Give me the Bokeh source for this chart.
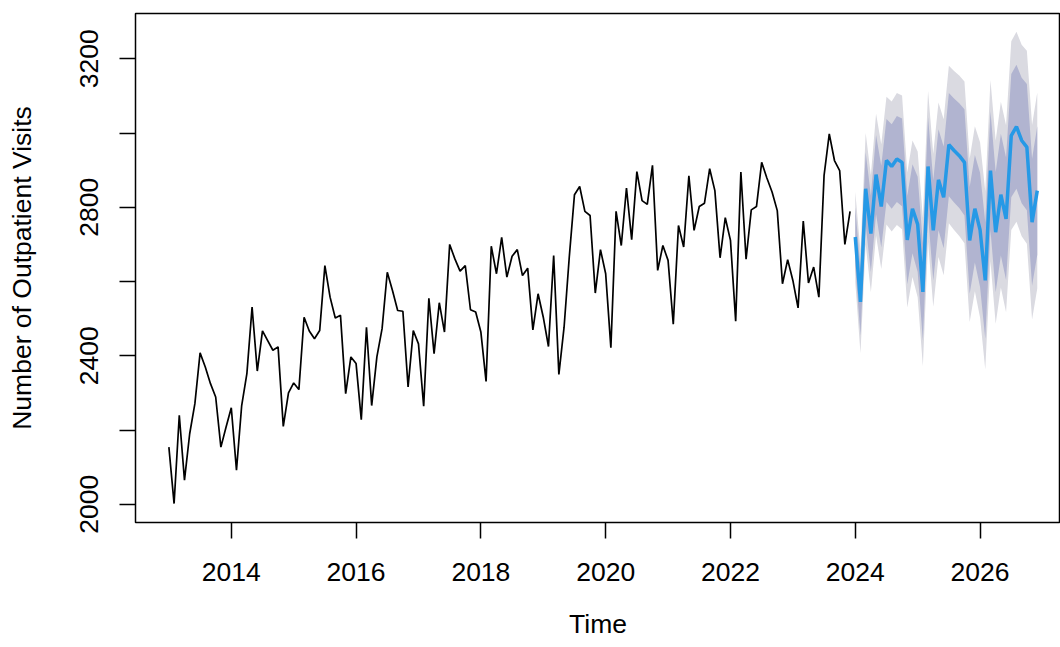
from bokeh.plotting import figure
from bokeh.models import FixedTicker, Range1d
from bokeh.embed import file_html
from bokeh.resources import INLINE

# ---- data (monthly outpatient visits, Jan 2013 - Dec 2023) ----
start_year = 2013
obs = [
    2154, 2002, 2240, 2065, 2190, 2271, 2408, 2370, 2325, 2289, 2154, 2208,  # 2013
    2260, 2092, 2266, 2352, 2531, 2359, 2467, 2441, 2415, 2424, 2210, 2300,  # 2014
    2327, 2309, 2504, 2467, 2446, 2468, 2643, 2558, 2502, 2509, 2298, 2397,  # 2015
    2379, 2228, 2477, 2266, 2397, 2473, 2625, 2576, 2522, 2520, 2316, 2468,  # 2016
    2432, 2264, 2555, 2406, 2543, 2464, 2700, 2661, 2628, 2643, 2524, 2518,  # 2017
    2464, 2331, 2695, 2621, 2719, 2612, 2668, 2686, 2616, 2636, 2470, 2567,  # 2018
    2504, 2425, 2670, 2350, 2477, 2666, 2834, 2856, 2789, 2778, 2569, 2686,  # 2019
    2621, 2422, 2789, 2697, 2852, 2713, 2896, 2818, 2808, 2913, 2630, 2697,  # 2020
    2657, 2485, 2751, 2693, 2885, 2738, 2802, 2811, 2904, 2845, 2664, 2772,  # 2021
    2711, 2493, 2895, 2660, 2793, 2802, 2921, 2879, 2841, 2791, 2594, 2659,  # 2022
    2603, 2529, 2763, 2596, 2639, 2558, 2886, 2998, 2926, 2899, 2700, 2789,  # 2023
]

# ---- forecast Jan 2024 - Dec 2026 ----
fc_start = 2024
fc_mean = [
    2720, 2545, 2850, 2729, 2888, 2802, 2926, 2910, 2930, 2921, 2712, 2796,
    2754, 2572, 2910, 2738, 2874, 2827, 2969, 2953, 2939, 2921, 2711, 2796,
    2739, 2603, 2899, 2733, 2834, 2769, 2993, 3017, 2980, 2962, 2760, 2845,
]
# half-widths of the 80% and 95% prediction intervals
w80 = [
    80, 90, 98, 103, 107, 110, 112, 114, 116, 118, 119, 120,
    128, 131, 133, 135, 136, 137, 139, 140, 141, 143, 144, 145,
    154, 157, 160, 162, 164, 165, 166, 167, 169, 170, 171, 173,
]
w95 = [
    122, 138, 150, 158, 164, 168, 172, 175, 178, 180, 182, 184,
    196, 200, 203, 206, 208, 210, 212, 214, 216, 218, 220, 222,
    236, 240, 244, 247, 250, 252, 254, 256, 258, 260, 262, 264,
]

x_ticks = [2014, 2016, 2018, 2020, 2022, 2024, 2026]
y_ticks = [2000, 2200, 2400, 2600, 2800, 3000, 3200]
y_hidden = [2200, 2600, 3000]
x_title = "Time"
y_title = "Number of Outpatient Visits"

t_obs = [start_year + i / 12 for i in range(len(obs))]
t_fc = [fc_start + i / 12 for i in range(len(fc_mean))]
lo80 = [m - w for m, w in zip(fc_mean, w80)]
hi80 = [m + w for m, w in zip(fc_mean, w80)]
lo95 = [m - w for m, w in zip(fc_mean, w95)]
hi95 = [m + w for m, w in zip(fc_mean, w95)]

FONT = "Liberation Sans"
FS = "26.5px"

p = figure(width=1060, height=647, output_backend="svg", toolbar_location=None,
           x_range=Range1d(2012.465, 2027.289), y_range=Range1d(1951, 3322),
           min_border_left=135, min_border_top=13, min_border_right=0,
           min_border_bottom=125)
p.background_fill_color = "white"
p.border_fill_color = "white"
p.grid.visible = False
p.outline_line_color = "black"
p.outline_line_width = 1.5

p.varea(x=t_fc, y1=lo95, y2=hi95, fill_color="#DADAE1")
p.varea(x=t_fc, y1=lo80, y2=hi80, fill_color="#B1B4D0")
p.line(t_obs, obs, line_color="black", line_width=1.7)
p.line(t_fc, fc_mean, line_color="#2699E6", line_width=3.5)

for ax in (p.xaxis[0], p.yaxis[0]):
    ax.axis_line_color = None
    ax.major_tick_out = 16
    ax.major_tick_in = 0
    ax.major_tick_line_width = 1.5
    ax.major_tick_line_color = "black"
    ax.minor_tick_line_color = None
    ax.major_label_text_font = FONT
    ax.major_label_text_font_size = FS
    ax.major_label_text_color = "black"
    ax.axis_label_text_font = FONT
    ax.axis_label_text_font_size = FS
    ax.axis_label_text_font_style = "normal"
    ax.axis_label_text_color = "black"

xa = p.xaxis[0]
xa.ticker = FixedTicker(ticks=x_ticks)
xa.major_label_standoff = 24
xa.axis_label = x_title
xa.axis_label_standoff = 25

ya = p.yaxis[0]
ya.ticker = FixedTicker(ticks=y_ticks)
ya.major_label_overrides = {v: "" for v in y_hidden}
ya.major_label_orientation = "vertical"
ya.major_label_standoff = 21
ya.axis_label = y_title
ya.axis_label_standoff = 41

open("out.html", "w").write(file_html(p, INLINE))
